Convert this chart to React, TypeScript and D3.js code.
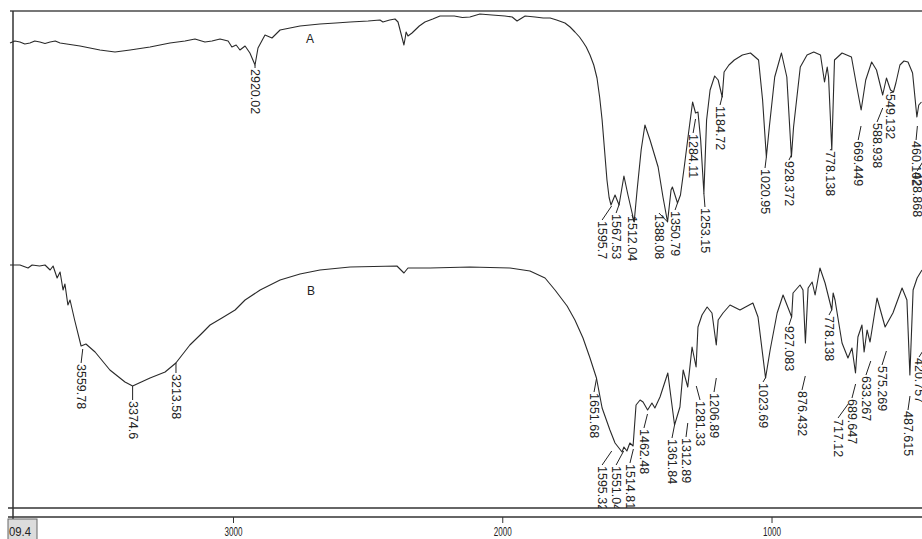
import React, { useRef, useEffect } from 'react';
import * as d3 from 'd3';

const width = 922;
const height = 539;

// spectrum A : [wavenumber (cm-1), %T]
const specA: [number, number][] = [
  [3830, 86.8], [3812, 87.6], [3793, 87.2], [3775, 86.4], [3756, 86.8], [3738, 87.6], [3719, 87.2],
  [3700, 86.6], [3681, 87.2], [3662, 87.6], [3644, 86.8], [3607, 86.2], [3570, 85.6], [3533, 84.8],
  [3496, 84], [3440, 83.2], [3384, 84], [3310, 85.2], [3236, 86.8], [3180, 87.6], [3143, 88.4],
  [3106, 87.2], [3080, 87.6], [3050, 88.4], [3020, 87.6], [3006, 85.2], [2990, 86], [2976, 84],
  [2957, 85.6], [2939, 82.8], [2920, 78], [2909, 84.8], [2883, 90], [2857, 88.8], [2827, 92],
  [2790, 92.8], [2753, 93.6], [2679, 94.4], [2620, 94.8], [2567, 95.2], [2500, 95.6], [2456, 96],
  [2445, 95.2], [2420, 96], [2400, 96.4], [2389, 95.2], [2367, 86], [2362, 89], [2359, 91.2],
  [2352, 89.6], [2337, 90.8], [2310, 93.6], [2289, 95.2], [2260, 96.4], [2233, 97.6], [2180, 97.6],
  [2150, 97], [2122, 97.2], [2085, 98.4], [2040, 98], [1992, 97.6], [1965, 97.2], [1947, 95.6],
  [1917, 97.6], [1880, 97.2], [1850, 96.8], [1824, 96.8], [1800, 96], [1769, 94.8], [1750, 93.2],
  [1732, 91.2], [1715, 89.2], [1702, 87.2], [1690, 85.2], [1676, 82], [1662, 78], [1650, 72.8],
  [1640, 65], [1631, 56], [1622, 44], [1613, 32], [1605, 25], [1598, 22], [1583, 26], [1568, 22],
  [1550, 33.6], [1535, 26], [1512, 15.2], [1501, 28], [1486, 44], [1472, 54], [1453, 48],
  [1423, 37.2], [1405, 25.2], [1388, 15.2], [1375, 28], [1370, 29.2], [1351, 22.8], [1340, 26],
  [1325, 38], [1310, 50.8], [1295, 63.2], [1284, 58.8], [1275, 59.2], [1265, 48], [1253, 26.8],
  [1243, 56], [1230, 68], [1213, 73.6], [1200, 72], [1185, 65.2], [1178, 75.2], [1160, 78],
  [1140, 80], [1110, 82], [1080, 82.8], [1050, 80], [1035, 64], [1021, 41.2], [1010, 53.2],
  [990, 73.2], [965, 82.8], [945, 73.2], [928, 41.2], [920, 53.2], [895, 77.2], [870, 82],
  [845, 83.2], [820, 82], [805, 71.2], [795, 77.2], [790, 73.2], [778, 44], [768, 80], [740, 82.8],
  [705, 81.2], [685, 69.2], [669, 60], [652, 72], [630, 79.2], [612, 76], [589, 66], [575, 72.8],
  [560, 68], [549, 67.2], [540, 70.8], [525, 78], [510, 79.6], [495, 79.2], [478, 74.8], [462, 57.2],
  [455, 62], [445, 63.2]
];

// spectrum B : [wavenumber (cm-1), %T]
const specB: [number, number][] = [
  [3830, 98], [3793, 98], [3763, 96.8], [3748, 98], [3720, 97.6], [3700, 98], [3681, 96],
  [3670, 97.6], [3655, 92.8], [3644, 95.2], [3633, 88], [3626, 90.4], [3615, 82], [3607, 84],
  [3590, 76], [3566, 65.6], [3548, 66.4], [3514, 63.2], [3459, 56], [3403, 51.2], [3374.6, 49.6],
  [3310, 52.8], [3254, 55.2], [3214, 58.8], [3162, 66], [3120, 70.4], [3087, 74], [3043, 76.8],
  [2994, 80], [2957, 84], [2901, 88], [2827, 92], [2753, 94.4], [2679, 96], [2567, 97.2],
  [2393, 97.6], [2367, 94.8], [2352, 96.8], [2270, 96.8], [2122, 97.2], [1973, 96.8], [1899, 95.6],
  [1843, 92.8], [1806, 88], [1761, 81.6], [1732, 76], [1702, 68.8], [1676, 60.8], [1652, 52.8],
  [1631, 40.8], [1602, 32], [1583, 26.8], [1557, 23.2], [1550, 25.2], [1539, 23.6], [1528, 26.8],
  [1516, 25.6], [1505, 42], [1490, 44], [1479, 43.2], [1462, 40], [1446, 42.8], [1435, 40.8],
  [1416, 45.2], [1387, 54.8], [1362, 34], [1342, 41.2], [1330, 56], [1313, 49.2], [1297, 65.2],
  [1282, 57.2], [1275, 73.2], [1260, 78], [1241, 81.2], [1223, 78.8], [1207, 66], [1200, 76],
  [1182, 78.8], [1156, 82], [1119, 80], [1071, 82.8], [1052, 77.2], [1024, 52.8], [1007, 64],
  [981, 78.8], [959, 86], [927, 77.2], [922, 86.8], [896, 90], [885, 88], [876, 66.8], [866, 88.8],
  [851, 91.2], [840, 86], [822, 96.8], [803, 90.8], [778, 80], [773, 86.8], [766, 84], [740, 66.8],
  [718, 60.8], [703, 64.8], [690, 54.8], [681, 69.2], [666, 74], [658, 63.2], [647, 72], [636, 67.2],
  [610, 84.8], [580, 73.2], [551, 78.8], [517, 88.8], [499, 84], [488, 54], [476, 88], [461, 92.8],
  [443, 96]
];

const peaksA = [2920.02, 1595.7, 1567.53, 1512.04, 1388.08, 1350.79, 1284.11, 1253.15, 1184.72,
  1020.95, 928.372, 778.138, 669.449, 588.938, 549.132, 460.102, 428.868];
const peakTextA = ['2920.02', '1595.7', '1567.53', '1512.04', '1388.08', '1350.79', '1284.11', '1253.15',
  '1184.72', '1020.95', '928.372', '778.138', '669.449', '588.938', '549.132', '460.102', '428.868'];
// where each label sits: [wavenumber of text centre, %T of text top]
const labelAtA: [number, number][] = [
  [2920, 76.8], [1631, 16], [1579, 18.8], [1520, 18], [1420, 18.8], [1360, 20], [1293, 50.8],
  [1249, 21.2], [1193, 62], [1026, 36.8], [937, 40], [785, 44], [680, 48], [610, 55.2], [562, 66.8],
  [465, 48], [461, 35.6]
];

const peaksB = [3559.78, 3374.6, 3213.58, 1651.68, 1595.32, 1551.04, 1514.81, 1462.48, 1361.84,
  1312.89, 1281.33, 1206.89, 1023.69, 927.083, 876.432, 778.138, 717.12, 689.647, 633.267, 575.269,
  487.615, 420.757];
const peakTextB = ['3559.78', '3374.6', '3213.58', '1651.68', '1595.32', '1551.04', '1514.81', '1462.48',
  '1361.84', '1312.89', '1281.33', '1206.89', '1023.69', '927.083', '876.432', '778.138', '717.12',
  '689.647', '633.267', '575.269', '487.615', '420.757'];
const labelAtB: [number, number][] = [
  [3566, 58.8], [3374.6, 44], [3213.58, 54.8], [1661, 47.2], [1631, 18], [1579, 18], [1527.5, 18.8],
  [1475.5, 32.8], [1371.4, 28.8], [1319.4, 29.2], [1267.4, 44], [1215.4, 47.2], [1033.4, 51.2],
  [937, 74], [888.6, 48], [788.3, 78], [754.9, 36.8], [703, 44.8], [651, 54], [591.5, 58], [495, 40],
  [454, 61.2]
];

const xTicks = [3000, 2000, 1000];
const startValue = '09.4';

const valueAt = (spec: [number, number][], wn: number) => {
  for (let i = 0; i < spec.length - 1; i++) {
    const [w0, t0] = spec[i];
    const [w1, t1] = spec[i + 1];
    if (wn <= w0 && wn >= w1) return t0 + (t1 - t0) * (w0 - wn) / (w0 - w1);
  }
  return spec[spec.length - 1][1];
};

export default function App() {
  const svgRef = useRef<SVGSVGElement>(null);

  useEffect(() => {
    if (!svgRef.current) return;
    const svg = d3.select(svgRef.current);
    svg.selectAll('*').remove();

    const plotTop = 11;
    const plotBottom = 508;
    const axisY = 517;
    const axisX = 13;
    const font = 'Liberation Sans, Arial, sans-serif';

    const x = d3.scaleLinear().domain([3830, 443]).range([10, 922]);
    const yA = d3.scaleLinear().domain([0, 100]).range([260, 10]);
    const yB = d3.scaleLinear().domain([0, 100]).range([510, 260]);

    svg.append('rect').attr('width', width).attr('height', height).attr('fill', '#fff');

    svg.append('defs').append('clipPath').attr('id', 'plotclip')
      .append('rect').attr('x', 8).attr('y', plotTop).attr('width', width - 8).attr('height', plotBottom - plotTop);

    // frame
    svg.append('line').attr('x1', 10).attr('x2', width).attr('y1', plotTop).attr('y2', plotTop)
      .attr('stroke', '#777').attr('stroke-width', 2);
    svg.append('line').attr('x1', 8).attr('x2', width).attr('y1', plotBottom).attr('y2', plotBottom)
      .attr('stroke', '#333').attr('stroke-width', 1.5);
    svg.append('line').attr('x1', 8).attr('x2', width).attr('y1', axisY).attr('y2', axisY)
      .attr('stroke', '#333').attr('stroke-width', 1.5);
    svg.append('line').attr('x1', axisX).attr('x2', axisX).attr('y1', plotTop).attr('y2', 522)
      .attr('stroke', '#333').attr('stroke-width', 1.5);

    // x ticks
    const ticks = svg.append('g');
    ticks.selectAll('line').data(xTicks).enter().append('line')
      .attr('x1', d => x(d)).attr('x2', d => x(d)).attr('y1', axisY).attr('y2', axisY + 6)
      .attr('stroke', '#333').attr('stroke-width', 1);
    ticks.selectAll('text').data(xTicks).enter().append('text')
      .attr('x', d => x(d) - 9).attr('y', 536)
      .attr('textLength', 18).attr('lengthAdjust', 'spacingAndGlyphs')
      .style('font-family', font).style('font-size', '13px')
      .attr('fill', '#222').text(d => String(d));

    // start value box
    svg.append('rect').attr('x', 8).attr('y', 519).attr('width', 29).attr('height', 24)
      .attr('fill', '#dcdcdc').attr('stroke', '#666').attr('stroke-width', 1);
    svg.append('text').attr('x', 9).attr('y', 536)
      .attr('textLength', 22).attr('lengthAdjust', 'spacingAndGlyphs')
      .style('font-family', font).style('font-size', '13px')
      .attr('fill', '#222').text(startValue);

    const plot = svg.append('g').attr('clip-path', 'url(#plotclip)');

    const drawTrace = (
      spec: [number, number][],
      y: d3.ScaleLinear<number, number>,
      peaks: number[],
      texts: string[],
      labelAt: [number, number][],
      name: string,
      nameWn: number,
      nameT: number
    ) => {
      const line = d3.line<[number, number]>().x(d => x(d[0])).y(d => y(d[1]));
      plot.append('path').datum(spec).attr('d', line)
        .attr('fill', 'none').attr('stroke', '#2a2a2a').attr('stroke-width', 1.1)
        .attr('stroke-linejoin', 'round');

      peaks.forEach((p, i) => {
        const [lw, lt] = labelAt[i];
        const top = y(lt);
        const cy = y(valueAt(spec, p));
        const y0 = Math.max(cy, top - 14);
        plot.append('line')
          .attr('x1', x(p)).attr('y1', y0).attr('x2', x(lw)).attr('y2', top)
          .attr('stroke', '#222').attr('stroke-width', 1);
        plot.append('text')
          .attr('transform', `translate(${x(lw)},${top + 1}) rotate(90)`)
          .attr('dominant-baseline', 'central')
          .style('font-family', font).style('font-size', '12.5px')
          .attr('fill', '#222').text(texts[i]);
      });

      plot.append('text').attr('x', x(nameWn)).attr('y', y(nameT))
        .attr('text-anchor', 'middle')
        .style('font-family', font).style('font-size', '12px')
        .attr('fill', '#222').text(name);
    };

    drawTrace(specA, yA, peaksA, peakTextA, labelAtA, 'A', 2716, 86.8);
    drawTrace(specB, yB, peaksB, peakTextB, labelAtB, 'B', 2712, 86);
  }, []);

  return (
    <svg
      ref={svgRef}
      width={width}
      height={height}
      style={{ position: 'absolute', left: 0, top: 0, display: 'block' }}
    />
  );
}
